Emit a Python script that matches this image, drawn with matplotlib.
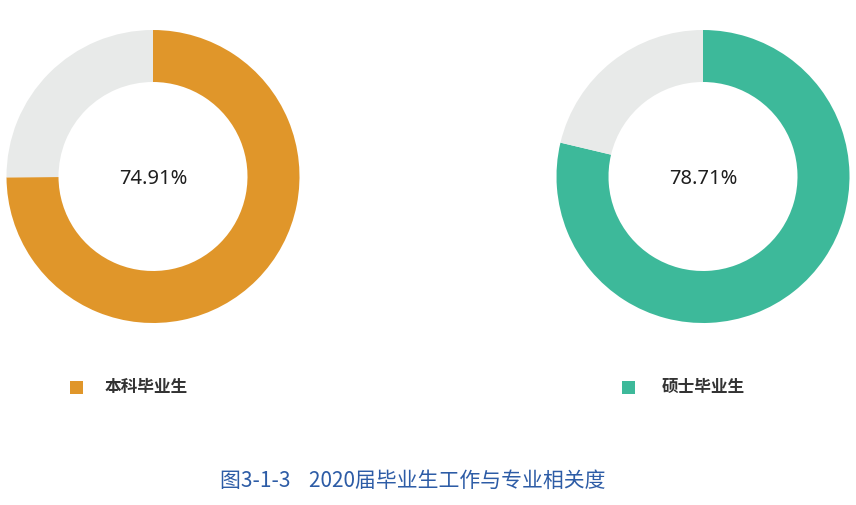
import matplotlib
matplotlib.use("Agg")
import matplotlib.pyplot as plt
from matplotlib.patches import Rectangle

plt.rcParams['font.family'] = ['Noto Sans CJK SC', 'DejaVu Sans']

groups = ['本科毕业生', '硕士毕业生']
relevance = [74.91, 78.71]
colors = ['#E0962A', '#3DB99A']
rest_color = '#E8EAE9'
title = '图3-1-3    2020届毕业生工作与专业相关度'

W, H = 856, 505
fig = plt.figure(figsize=(W / 100, H / 100), dpi=100)
ax = fig.add_axes([0, 0, 1, 1])

centers_x = [153, 703]
cy = H - 176.5
R = 146.5
ring = 52

for i, (g, v, c) in enumerate(zip(groups, relevance, colors)):
    ax.pie([v, 100 - v], colors=[c, rest_color], startangle=90, counterclock=False,
           center=(centers_x[i], cy), radius=R,
           wedgeprops=dict(width=ring, linewidth=0))
    ax.text(centers_x[i], cy - 2, f'{v:.2f}%', ha='center', va='center',
            fontsize=14.5, color='#1E1E1E', family=['Noto Sans', 'DejaVu Sans'])

leg_sq_x = [70, 622]
leg_tx_x = [105, 662]
ly = H - 387
for i, g in enumerate(groups):
    ax.add_patch(Rectangle((leg_sq_x[i], ly - 6.5), 13, 13, color=colors[i], linewidth=0))
    ax.text(leg_tx_x[i], ly, g, ha='left', va='center', fontsize=12,
            fontweight='bold', color='#333333')

ax.text(220, H - 481, title, ha='left', va='center', fontsize=15, color='#2D5CA6')

ax.set_xlim(0, W)
ax.set_ylim(0, H)
ax.set_aspect('auto')
ax.axis('off')

fig.savefig('out.png', dpi=100, facecolor='white')
